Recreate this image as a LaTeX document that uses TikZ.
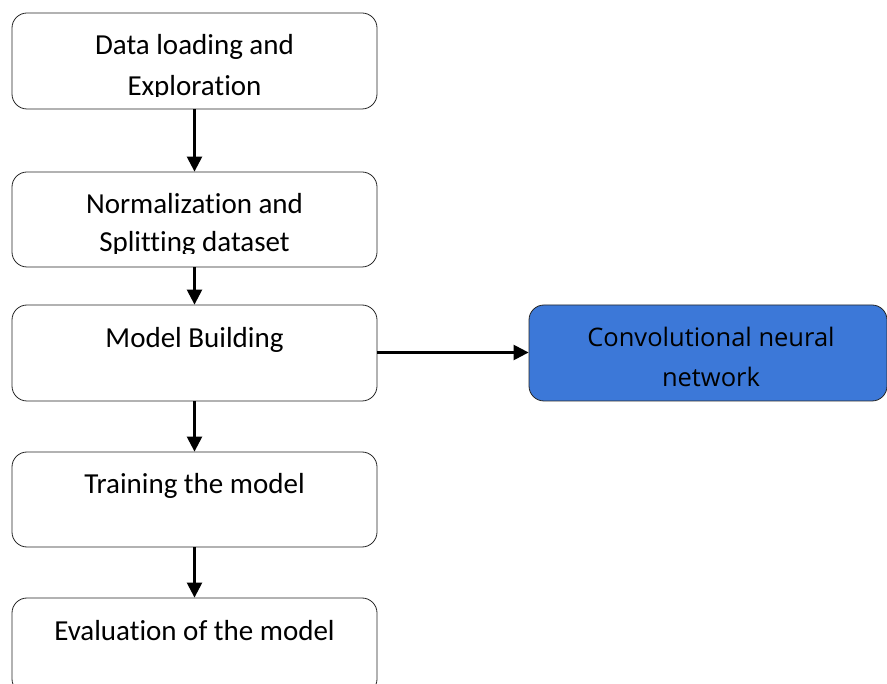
\documentclass[tikz,border=0pt]{standalone}
\usepackage{fontspec}
\setmainfont[Ligatures={NoCommon}]{Carlito}
\newfontfamily\bluefont{Open Sans}
\usetikzlibrary{arrows.meta}
\definecolor{cnnblue}{HTML}{3C78D8}
\begin{document}
\begin{tikzpicture}[x=1pt,y=-1pt,
  box/.style={draw=black!85, line width=0.8pt, rounded corners=15pt, fill=white, minimum width=365pt, inner sep=0pt},
  bluebox/.style={draw=black!85, line width=0.8pt, rounded corners=15pt, fill=cnnblue, inner sep=0pt},
  lbl/.style={anchor=base, inner sep=0pt, font=\fontsize{29}{41}\selectfont},
  blbl/.style={anchor=base, inner sep=0pt, font=\bluefont\fontsize{25.5}{39}\selectfont},
  arr/.style={line width=2.4pt, -{Triangle[length=15pt,width=15pt]}}]
\useasboundingbox (0,0) rectangle (887,684);
\clip (0,0) rectangle (887,684);
\node[box, minimum height=96pt] (b1) at (194.5,61) {};
\node[box, minimum height=95pt] (b2) at (194.5,219.5) {};
\node[box, minimum height=96pt] (b3) at (194.5,353) {};
\node[box, minimum height=95pt] (b4) at (194.5,499.5) {};
\node[box, minimum height=96pt] (b5) at (194.5,646) {};
\node[bluebox, minimum width=358pt, minimum height=96pt] (cnn) at (708,353) {};
\begin{scope}
\clip (12,13) rectangle (377,97);
\node[lbl] (t1a) at (194.5,55) {Data loading and};
\node[lbl] (t1b) at (194.5,96) {Exploration};
\end{scope}
\begin{scope}
\clip (12,172) rectangle (377,254);
\node[lbl] (t2a) at (194.5,214) {Normalization and};
\node[lbl] (t2b) at (194.5,252) {Splitting dataset};
\end{scope}
\node[lbl] (t3) at (194.5,348) {Model Building};
\node[lbl] (t4) at (194.5,494) {Training the model};
\node[lbl] (t5) at (194.5,640) {Evaluation of the model};
\node[blbl] (t6a) at (711,347) {Convolutional neural};
\node[blbl] (t6b) at (711,387) {network};
\draw[arr] (b1.south) -- (b2.north);
\draw[arr] (b2.south) -- (b3.north);
\draw[arr] (b3.south) -- (b4.north);
\draw[arr] (b4.south) -- (b5.north);
\draw[arr] ([yshift=0.5pt]b3.east) -- ([yshift=0.5pt]cnn.west);
\end{tikzpicture}
\end{document}
